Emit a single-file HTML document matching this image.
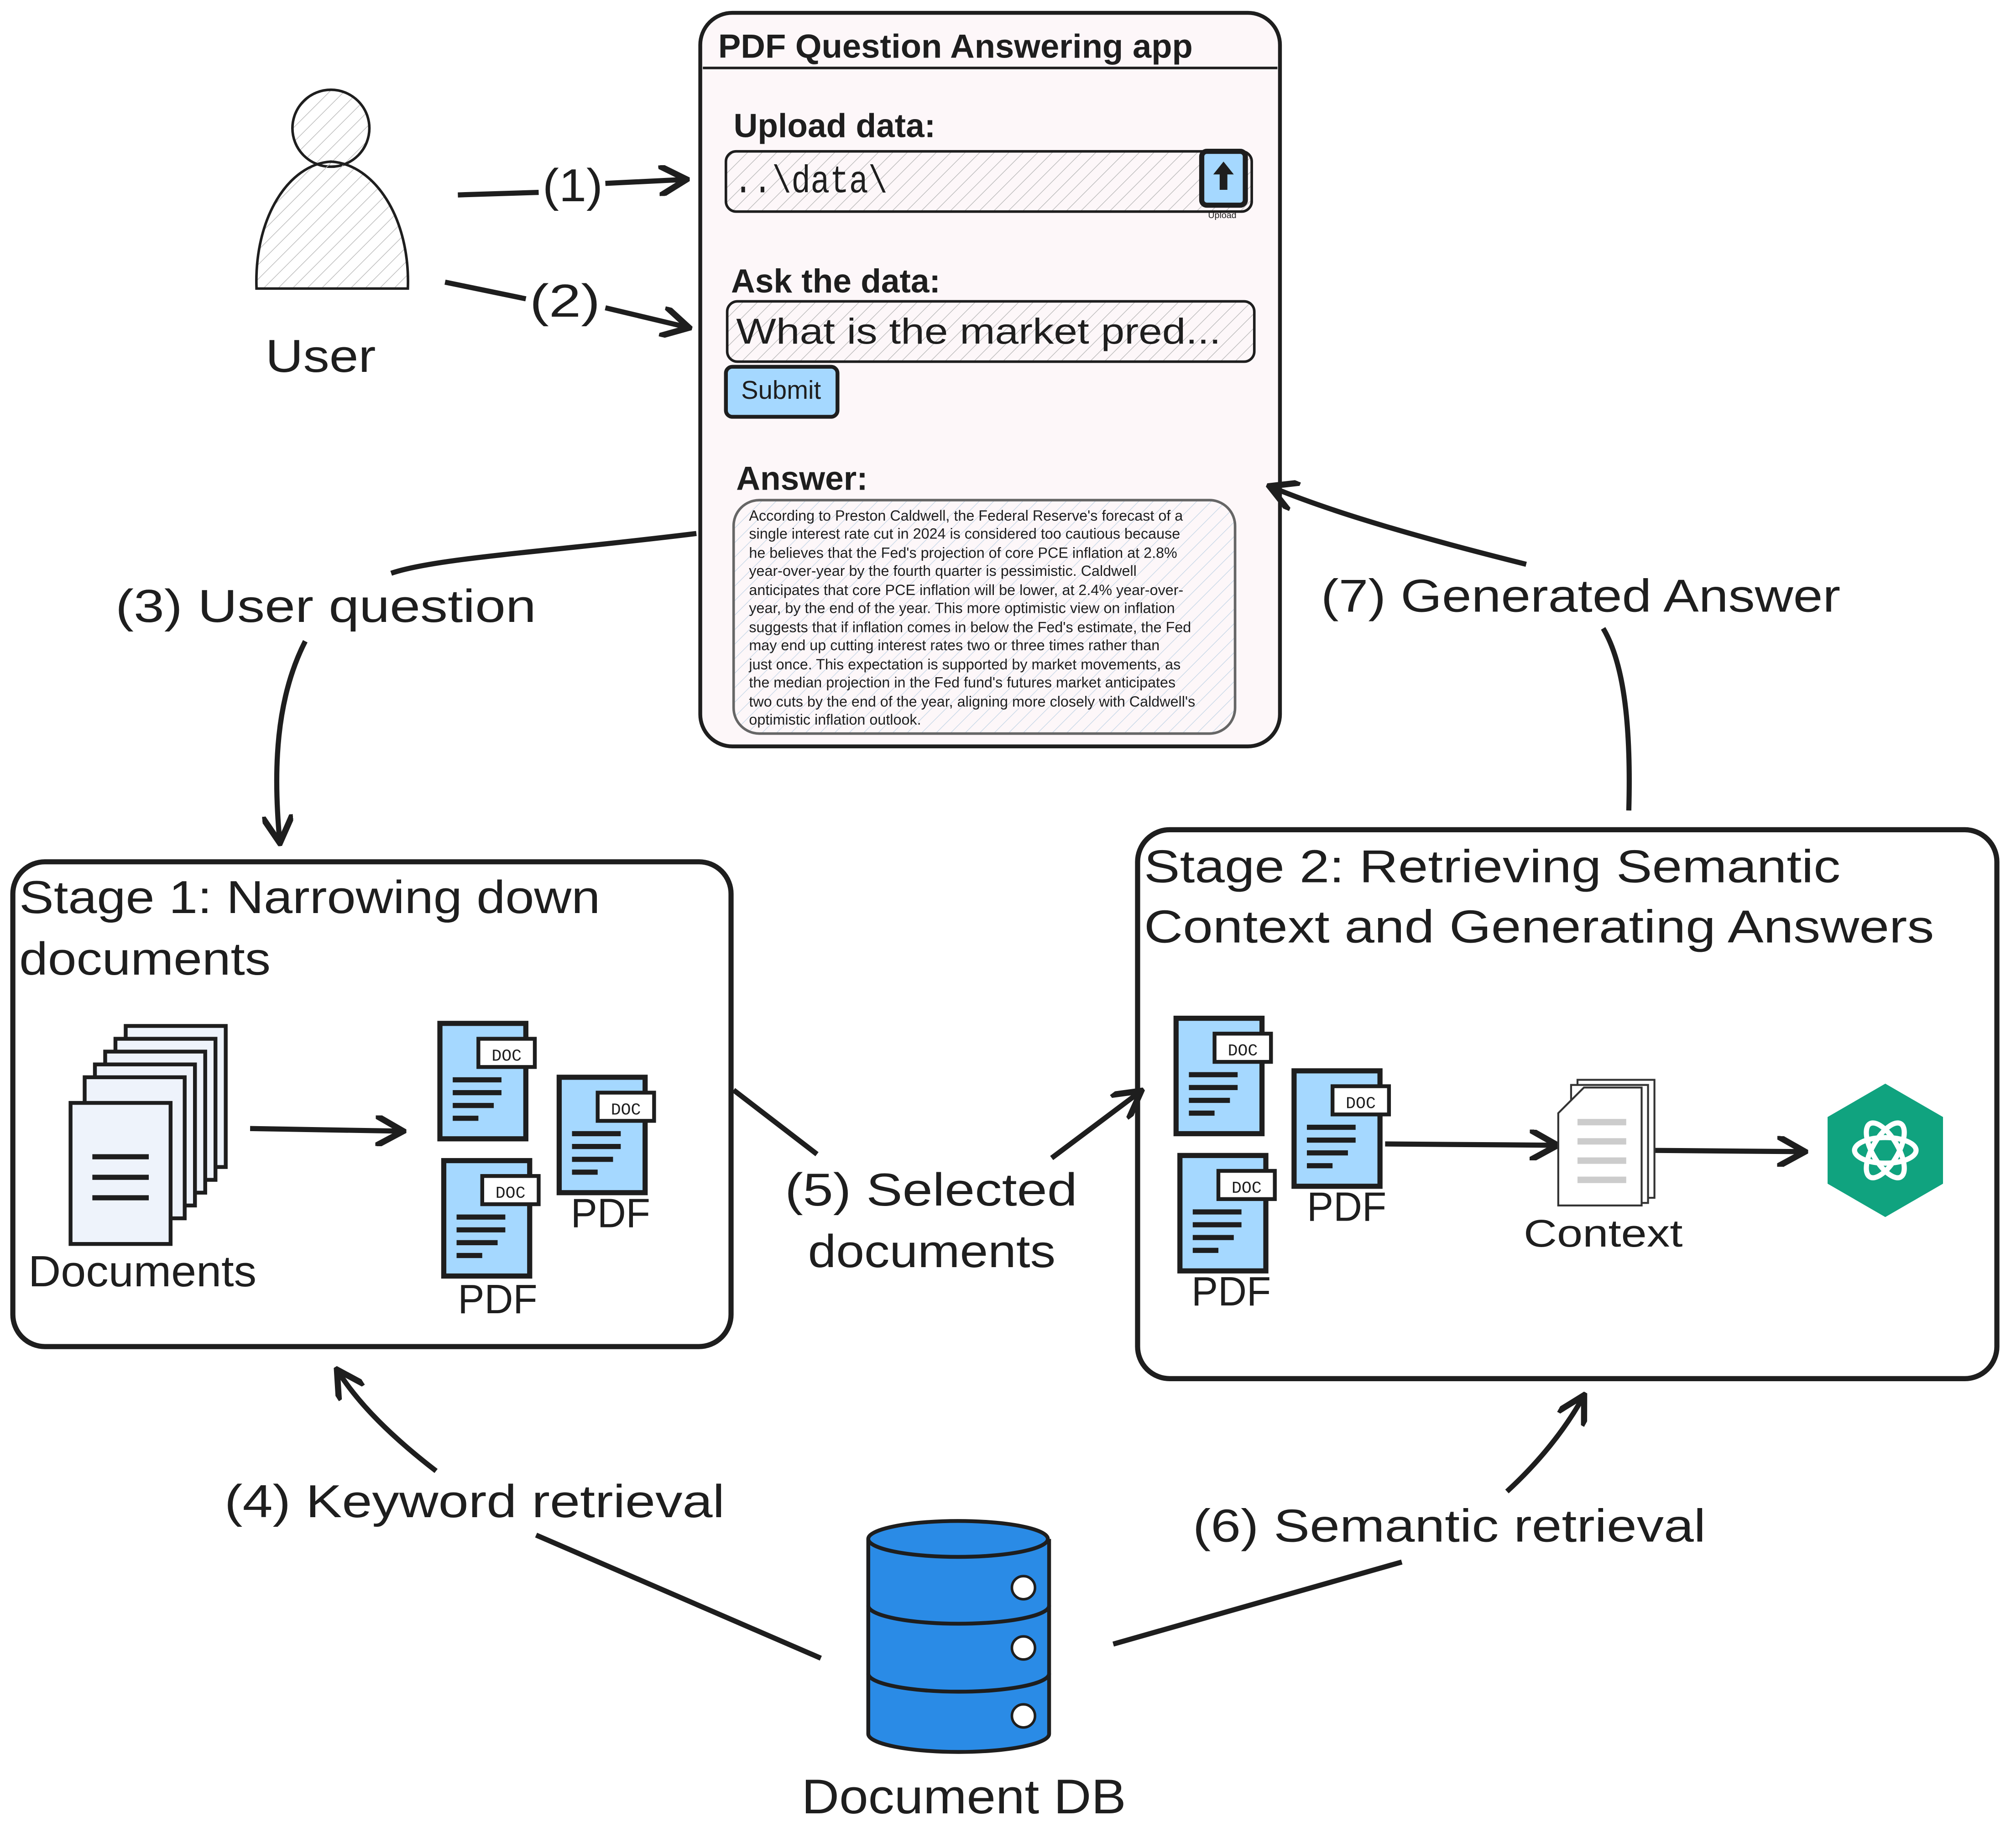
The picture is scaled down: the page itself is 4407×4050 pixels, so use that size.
<!DOCTYPE html>
<html><head><meta charset="utf-8"><style>
html,body{margin:0;padding:0;background:#fff;}
svg{display:block;}
text{font-family:"Liberation Sans",sans-serif;fill:#1e1e1e;}
.h{font-family:"Liberation Mono","Liberation Sans",monospace;}
</style></head><body>
<svg width="4407" height="4050" viewBox="0 0 1568 1441" xmlns="http://www.w3.org/2000/svg">
<defs>
<pattern id="hatch" width="8" height="8" patternUnits="userSpaceOnUse" patternTransform="rotate(45)">
<line x1="0" y1="0" x2="0" y2="8" stroke="#bbb" stroke-width="1"/></pattern>
<pattern id="hatch2" width="8" height="8" patternUnits="userSpaceOnUse" patternTransform="rotate(45)">
<line x1="0" y1="0" x2="0" y2="8" stroke="#c8d8e8" stroke-width="1"/></pattern>
<marker id="ar" viewBox="0 0 10 10" refX="8" refY="5" markerWidth="6" markerHeight="6" orient="auto-start-reverse">
<path d="M0,0 L9,5 L0,10" fill="none" stroke="#1e1e1e" stroke-width="2"/></marker>
<g id="doc">
<rect x="0" y="0" width="67" height="90" fill="#a5d8ff" stroke="#1e1e1e" stroke-width="4"/>
<rect x="30" y="12" width="44" height="22" fill="#fff" stroke="#1e1e1e" stroke-width="3"/>
<text x="52" y="29" font-size="13" text-anchor="middle" class="h">DOC</text>
<line x1="10" y1="44" x2="48" y2="44" stroke="#1e1e1e" stroke-width="4"/>
<line x1="10" y1="54" x2="48" y2="54" stroke="#1e1e1e" stroke-width="4"/>
<line x1="10" y1="64" x2="42" y2="64" stroke="#1e1e1e" stroke-width="4"/>
<line x1="10" y1="74" x2="30" y2="74" stroke="#1e1e1e" stroke-width="4"/>
</g>
</defs>

<!-- User -->
<circle cx="258" cy="100" r="30" fill="url(#hatch)" stroke="#1e1e1e" stroke-width="2"/>
<path d="M200,225 C198,170 225,128 258,126 C292,128 320,170 318,225 Z" fill="url(#hatch)" stroke="#1e1e1e" stroke-width="2"/>
<text x="207" y="290" font-size="36" textLength="86" lengthAdjust="spacingAndGlyphs">User</text>

<!-- App panel -->
<rect x="546" y="10" width="452" height="572" rx="25" fill="#fdf7f9" stroke="#1e1e1e" stroke-width="3"/>
<line x1="548" y1="53" x2="996" y2="53" stroke="#1e1e1e" stroke-width="2"/>
<text x="560" y="45" font-size="26" font-weight="bold" textLength="370" lengthAdjust="spacingAndGlyphs">PDF Question Answering app</text>
<text x="572" y="107" font-size="26" font-weight="bold">Upload data:</text>
<rect x="566" y="118" width="410" height="47" rx="8" fill="url(#hatch)" stroke="#1e1e1e" stroke-width="2"/>
<text x="572" y="150" font-size="30" class="h" textLength="120" lengthAdjust="spacingAndGlyphs">..\data\</text>
<rect x="937" y="118" width="34" height="42" rx="4" fill="#a5d8ff" stroke="#1e1e1e" stroke-width="4"/>
<path d="M954,126 L946,136 L951,136 L951,148 L957,148 L957,136 L962,136 Z" fill="#1e1e1e"/>
<text x="953" y="170" font-size="7" text-anchor="middle">Upload</text>
<text x="570" y="228" font-size="26" font-weight="bold">Ask the data:</text>
<rect x="567" y="235" width="411" height="47" rx="8" fill="url(#hatch)" stroke="#1e1e1e" stroke-width="2"/>
<text x="574" y="268" font-size="28" textLength="378" lengthAdjust="spacingAndGlyphs">What is the market pred...</text>
<rect x="566" y="286" width="87" height="39" rx="5" fill="#a5d8ff" stroke="#1e1e1e" stroke-width="3"/>
<text x="609" y="311" font-size="20" text-anchor="middle">Submit</text>
<text x="574" y="382" font-size="26" font-weight="bold">Answer:</text>
<rect x="572" y="390" width="391" height="182" rx="20" fill="url(#hatch2)" stroke="#666" stroke-width="2"/>
<g font-size="11.5">
<text x="584" y="406">According to Preston Caldwell, the Federal Reserve's forecast of a</text>
<text x="584" y="420">single interest rate cut in 2024 is considered too cautious because</text>
<text x="584" y="435">he believes that the Fed's projection of core PCE inflation at 2.8%</text>
<text x="584" y="449">year-over-year by the fourth quarter is pessimistic. Caldwell</text>
<text x="584" y="464">anticipates that core PCE inflation will be lower, at 2.4% year-over-</text>
<text x="584" y="478">year, by the end of the year. This more optimistic view on inflation</text>
<text x="584" y="493">suggests that if inflation comes in below the Fed's estimate, the Fed</text>
<text x="584" y="507">may end up cutting interest rates two or three times rather than</text>
<text x="584" y="522">just once. This expectation is supported by market movements, as</text>
<text x="584" y="536">the median projection in the Fed fund's futures market anticipates</text>
<text x="584" y="551">two cuts by the end of the year, aligning more closely with Caldwell's</text>
<text x="584" y="565">optimistic inflation outlook.</text>
</g>

<g stroke="#1e1e1e" stroke-width="4" fill="none">
<line x1="357" y1="152" x2="420" y2="150"/>
<line x1="472" y1="143" x2="533" y2="140" marker-end="url(#ar)"/>
<line x1="347" y1="220" x2="410" y2="233"/>
<line x1="472" y1="240" x2="535" y2="255" marker-end="url(#ar)"/>
<path d="M543,416 C430,430 340,435 305,447"/>
<path d="M238,500 C215,545 213,600 218,655" marker-end="url(#ar)"/>
<line x1="572" y1="850" x2="637" y2="900"/>
<line x1="820" y1="903" x2="888" y2="852" marker-end="url(#ar)"/>
<line x1="195" y1="880" x2="312" y2="882" marker-end="url(#ar)"/>
<line x1="1080" y1="892" x2="1212" y2="893" marker-end="url(#ar)"/>
<line x1="1285" y1="897" x2="1405" y2="898" marker-end="url(#ar)"/>
<path d="M1270,632 C1272,560 1265,515 1250,490"/>
<path d="M1190,440 C1110,420 1040,400 992,380" marker-end="url(#ar)"/>
<line x1="640" y1="1293" x2="418" y2="1197"/>
<path d="M340,1147 C305,1120 280,1095 264,1070" marker-end="url(#ar)"/>
<line x1="868" y1="1282" x2="1093" y2="1218"/>
<path d="M1175,1163 C1200,1140 1220,1115 1234,1090" marker-end="url(#ar)"/>
</g>
<text x="423" y="157" font-size="36" textLength="47" lengthAdjust="spacingAndGlyphs">(1)</text>
<text x="413" y="247" font-size="36" textLength="55" lengthAdjust="spacingAndGlyphs">(2)</text>
<text x="90" y="485" font-size="36" textLength="328" lengthAdjust="spacingAndGlyphs">(3) User question</text>
<text x="1030" y="477" font-size="36" textLength="405" lengthAdjust="spacingAndGlyphs">(7) Generated Answer</text>
<text x="612" y="940" font-size="36" textLength="228" lengthAdjust="spacingAndGlyphs">(5) Selected</text>
<text x="630" y="988" font-size="36" textLength="193" lengthAdjust="spacingAndGlyphs">documents</text>
<text x="175" y="1183" font-size="36" textLength="390" lengthAdjust="spacingAndGlyphs">(4) Keyword retrieval</text>
<text x="930" y="1202" font-size="36" textLength="400" lengthAdjust="spacingAndGlyphs">(6) Semantic retrieval</text>

<!-- Stage 1 -->
<rect x="10" y="672" width="560" height="378" rx="25" fill="none" stroke="#1e1e1e" stroke-width="4"/>
<text x="15" y="712" font-size="36" textLength="453" lengthAdjust="spacingAndGlyphs">Stage 1: Narrowing down</text>
<text x="15" y="760" font-size="36" textLength="196" lengthAdjust="spacingAndGlyphs">documents</text>
<g stroke="#1e1e1e" stroke-width="3" fill="#eef3fb">
<rect x="98" y="800" width="78" height="110"/>
<rect x="90" y="810" width="78" height="110"/>
<rect x="82" y="820" width="78" height="110"/>
<rect x="74" y="830" width="78" height="110"/>
<rect x="66" y="840" width="78" height="110"/>
<rect x="55" y="860" width="78" height="110"/>
</g>
<g stroke="#1e1e1e" stroke-width="4"><line x1="72" y1="902" x2="116" y2="902"/><line x1="72" y1="918" x2="116" y2="918"/><line x1="72" y1="934" x2="116" y2="934"/></g>
<text x="22" y="1003" font-size="34" textLength="178" lengthAdjust="spacingAndGlyphs">Documents</text>
<use href="#doc" x="343" y="798"/>
<use href="#doc" x="436" y="840"/>
<use href="#doc" x="346" y="905"/>
<text x="445" y="957" font-size="32" textLength="62" lengthAdjust="spacingAndGlyphs">PDF</text>
<text x="357" y="1024" font-size="32" textLength="62" lengthAdjust="spacingAndGlyphs">PDF</text>

<!-- Stage 2 -->
<rect x="887" y="647" width="670" height="428" rx="25" fill="none" stroke="#1e1e1e" stroke-width="4"/>
<text x="892" y="688" font-size="36" textLength="543" lengthAdjust="spacingAndGlyphs">Stage 2: Retrieving Semantic</text>
<text x="892" y="735" font-size="36" textLength="616" lengthAdjust="spacingAndGlyphs">Context and Generating Answers</text>
<use href="#doc" x="917" y="794"/>
<use href="#doc" x="1009" y="835"/>
<use href="#doc" x="920" y="901"/>
<text x="1019" y="952" font-size="32" textLength="62" lengthAdjust="spacingAndGlyphs">PDF</text>
<text x="929" y="1018" font-size="32" textLength="62" lengthAdjust="spacingAndGlyphs">PDF</text>
<g stroke="#333" stroke-width="1.5" fill="#fff">
<rect x="1230" y="842" width="60" height="92"/>
<rect x="1225" y="846" width="60" height="92"/>
<path d="M1215,868 L1235,848 L1280,848 L1280,940 L1215,940 Z"/>
</g>
<g stroke="#ccc" stroke-width="5"><line x1="1230" y1="875" x2="1268" y2="875"/><line x1="1230" y1="890" x2="1268" y2="890"/><line x1="1230" y1="905" x2="1268" y2="905"/><line x1="1230" y1="920" x2="1268" y2="920"/></g>
<text x="1188" y="972" font-size="30" textLength="124" lengthAdjust="spacingAndGlyphs">Context</text>
<polygon points="1470,845 1515,871 1515,923 1470,949 1425,923 1425,871" fill="#10a37f"/>
<g fill="none" stroke="#fff" stroke-width="4">
<ellipse cx="1470" cy="897" rx="24" ry="10"/>
<ellipse cx="1470" cy="897" rx="24" ry="10" transform="rotate(60 1470 897)"/>
<ellipse cx="1470" cy="897" rx="24" ry="10" transform="rotate(120 1470 897)"/>
</g>

<!-- DB -->
<g stroke="#1e1e1e" stroke-width="3" fill="#2a8be6">
<path d="M677,1200 L677,1352 A70,14 0 0 0 818,1352 L818,1200"/>
<ellipse cx="747" cy="1200" rx="70" ry="14"/>
<path d="M677,1252 A70,14 0 0 0 818,1252" fill="none"/>
<path d="M677,1305 A70,14 0 0 0 818,1305" fill="none"/>
</g>
<circle cx="798" cy="1238" r="9" fill="#fff" stroke="#1e1e1e" stroke-width="2"/>
<circle cx="798" cy="1285" r="9" fill="#fff" stroke="#1e1e1e" stroke-width="2"/>
<circle cx="798" cy="1338" r="9" fill="#fff" stroke="#1e1e1e" stroke-width="2"/>
<text x="625" y="1414" font-size="38" textLength="253" lengthAdjust="spacingAndGlyphs">Document DB</text>
</svg>
</body></html>
